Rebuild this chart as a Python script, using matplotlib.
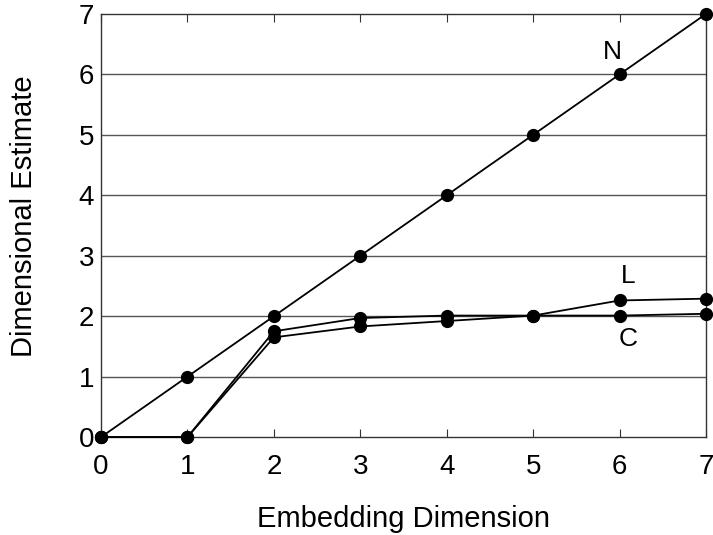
import matplotlib
matplotlib.use("Agg")
import matplotlib.pyplot as plt

plt.rcParams['font.family'] = ['Liberation Sans', 'DejaVu Sans']

dims = [0, 1, 2, 3, 4, 5, 6, 7]
est_n = [0, 1, 2, 3, 4, 5, 6, 7]
est_l = [0, 0, 1.75, 1.97, 2.01, 2.01, 2.26, 2.29]
est_c = [0, 0, 1.65, 1.83, 1.92, 2.01, 2.01, 2.04]

fig = plt.figure(figsize=(7.13, 5.35), dpi=100)
ax = fig.add_axes([0.1417, 0.183, 0.8485, 0.791])

for yv in range(1, 7):
    ax.axhline(yv, color='#555555', lw=1.0, zorder=1)

for series in (est_n, est_l, est_c):
    ax.plot(dims, series, color='black', lw=1.3, marker='o', markersize=8.5,
            clip_on=False, zorder=3)

ax.text(5.92, 6.37, 'N', fontsize=19, ha='center', va='center')
ax.text(6.1, 2.66, 'L', fontsize=19, ha='center', va='center')
ax.text(6.1, 1.62, 'C', fontsize=19, ha='center', va='center')

ax.set_xlim(0, 7)
ax.set_ylim(0, 7)
ax.set_xticks(dims)
ax.set_yticks(range(8))
ax.tick_params(axis='x', direction='in', length=6, top=True, labelsize=20,
               pad=12, color='#333333')
ax.tick_params(axis='y', length=0, labelsize=20, pad=5)
for s in ax.spines.values():
    s.set_color('#333333')
    s.set_linewidth(1.0)

ax.set_xlabel('Embedding Dimension', fontsize=21, labelpad=18)
ax.set_ylabel('Dimensional Estimate', fontsize=21)
ax.yaxis.set_label_coords(-0.105, 0.522)

fig.savefig('out.png', dpi=100)
